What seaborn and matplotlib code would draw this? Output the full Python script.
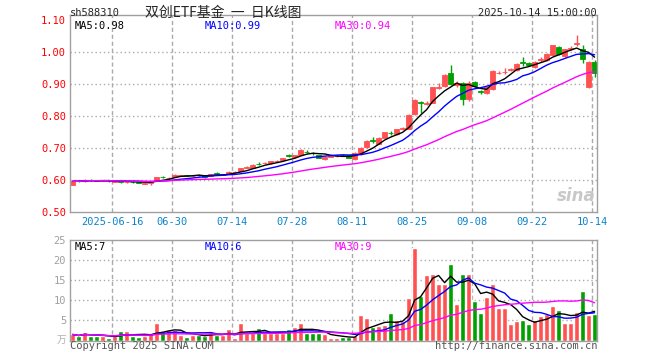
import numpy as np
import pandas as pd
import matplotlib
matplotlib.use("Agg")
import matplotlib.pyplot as plt
import seaborn as sns

# ---- data ----
holidays = ["2025-10-01", "2025-10-02", "2025-10-03", "2025-10-06", "2025-10-07", "2025-10-08"]
tick_days = ["2025-06-16", "2025-06-30", "2025-07-14", "2025-07-28", "2025-08-11",
             "2025-08-25", "2025-09-08", "2025-09-22", "2025-10-14"]

open_ = [0.584, 0.597, 0.596, 0.600, 0.599, 0.597, 0.598, 0.595, 0.596, 0.594,
         0.595, 0.594, 0.589, 0.592, 0.597, 0.610, 0.606, 0.610, 0.614, 0.616,
         0.612, 0.617, 0.615, 0.612, 0.621, 0.617, 0.622, 0.624, 0.629, 0.639,
         0.638, 0.651, 0.653, 0.652, 0.659, 0.662, 0.677, 0.671, 0.679, 0.689,
         0.685, 0.677, 0.666, 0.673, 0.674, 0.678, 0.677, 0.666, 0.680, 0.702,
         0.726, 0.714, 0.732, 0.748, 0.743, 0.759, 0.760, 0.806, 0.845, 0.837,
         0.842, 0.889, 0.893, 0.933, 0.898, 0.902, 0.852, 0.906, 0.878, 0.873,
         0.883, 0.933, 0.936, 0.944, 0.944, 0.968, 0.965, 0.954, 0.975, 0.975,
         0.990, 1.015, 0.988, 1.010, 1.025, 1.008, 0.890, 0.969]
close = [0.596, 0.596, 0.600, 0.599, 0.598, 0.598, 0.596, 0.596, 0.594, 0.595,
         0.594, 0.592, 0.591, 0.595, 0.608, 0.609, 0.607, 0.617, 0.615, 0.614,
         0.614, 0.616, 0.608, 0.618, 0.620, 0.618, 0.625, 0.625, 0.637, 0.640,
         0.648, 0.650, 0.654, 0.658, 0.660, 0.668, 0.676, 0.677, 0.694, 0.688,
         0.683, 0.670, 0.672, 0.674, 0.676, 0.677, 0.670, 0.683, 0.700, 0.721,
         0.723, 0.731, 0.749, 0.746, 0.758, 0.761, 0.804, 0.850, 0.842, 0.842,
         0.890, 0.890, 0.929, 0.901, 0.904, 0.854, 0.904, 0.894, 0.875, 0.890,
         0.942, 0.935, 0.939, 0.946, 0.963, 0.966, 0.958, 0.969, 0.977, 0.994,
         1.021, 0.994, 1.008, 1.012, 1.027, 0.979, 0.969, 0.933]
high = [0.598, 0.599, 0.602, 0.602, 0.600, 0.600, 0.599, 0.597, 0.597, 0.597,
        0.596, 0.595, 0.592, 0.598, 0.609, 0.612, 0.609, 0.618, 0.617, 0.617,
        0.616, 0.619, 0.616, 0.619, 0.624, 0.620, 0.627, 0.627, 0.638, 0.643,
        0.649, 0.655, 0.656, 0.659, 0.662, 0.669, 0.681, 0.678, 0.696, 0.693,
        0.688, 0.679, 0.674, 0.676, 0.678, 0.681, 0.678, 0.686, 0.702, 0.724,
        0.733, 0.735, 0.751, 0.754, 0.760, 0.766, 0.806, 0.852, 0.847, 0.846,
        0.892, 0.902, 0.932, 0.958, 0.910, 0.905, 0.908, 0.910, 0.882, 0.892,
        0.944, 0.942, 0.950, 0.950, 0.965, 0.983, 0.968, 0.971, 0.985, 0.996,
        1.023, 1.018, 1.010, 1.018, 1.052, 1.021, 0.972, 0.975]
low = [0.583, 0.594, 0.595, 0.597, 0.596, 0.596, 0.595, 0.594, 0.591, 0.592,
       0.592, 0.590, 0.587, 0.585, 0.596, 0.606, 0.604, 0.609, 0.612, 0.612,
       0.611, 0.613, 0.606, 0.611, 0.617, 0.615, 0.620, 0.623, 0.628, 0.637,
       0.637, 0.647, 0.651, 0.650, 0.657, 0.660, 0.672, 0.670, 0.678, 0.684,
       0.679, 0.668, 0.664, 0.671, 0.672, 0.675, 0.668, 0.662, 0.678, 0.700,
       0.716, 0.712, 0.730, 0.742, 0.740, 0.757, 0.758, 0.803, 0.808, 0.834,
       0.840, 0.884, 0.890, 0.898, 0.890, 0.835, 0.846, 0.890, 0.868, 0.870,
       0.880, 0.930, 0.930, 0.940, 0.941, 0.955, 0.955, 0.950, 0.970, 0.972,
       0.988, 0.990, 0.985, 1.006, 1.020, 0.965, 0.886, 0.921]
# volume, in 10k lots
volume = [1.5, 1.0, 2.0, 1.2, 1.2, 1.0, 0.5, 1.0, 2.25, 2.25,
          1.2, 0.8, 1.2, 1.7, 4.25, 2.3, 2.5, 2.5, 1.3, 0.8,
          1.4, 1.25, 1.2, 2.25, 1.3, 1.3, 2.8, 0.5, 4.25, 1.8,
          1.8, 3.0, 1.8, 1.8, 1.8, 1.8, 2.75, 3.3, 4.25, 1.8,
          1.8, 1.8, 1.5, 0.6, 0.6, 0.8, 0.9, 1.2, 6.25, 5.6,
          3.3, 3.6, 3.75, 6.75, 5.2, 4.8, 10.5, 23.1, 11.0, 16.3,
          16.6, 14.0, 14.2, 19.0, 9.0, 16.5, 16.5, 9.8, 6.75, 10.75,
          14.0, 8.0, 8.0, 4.0, 4.75, 5.0, 4.0, 5.0, 6.0, 6.5,
          8.5, 7.5, 4.3, 4.3, 7.0, 12.25, 6.25, 6.5]

RED = "#ff5151"
GREEN = "#00a000"
GRID = "#aaaaaa"
MONO = "DejaVu Sans Mono"

sns.set_style("white")
plt.rcParams['font.family'] = [MONO, 'Noto Sans CJK SC']

dates = pd.bdate_range("2025-06-05", "2025-10-14")
dates = dates[~dates.isin(pd.to_datetime(holidays))]

df = pd.DataFrame({"date": dates, "open": open_, "close": close, "high": high,
                   "low": low, "vol": volume})
df["idx"] = np.arange(len(df))
df["dir"] = np.where(df["close"] >= df["open"], "up", "down")
for w in (5, 10, 30):
    df[f"ma{w}"] = df["close"].rolling(w, min_periods=1).mean()
    df[f"vma{w}"] = df["vol"].rolling(w, min_periods=1).mean()
colors = np.where(df["dir"] == "up", RED, GREEN)

tick_idx = [int(np.where(df["date"] == pd.Timestamp(d))[0][0]) for d in tick_days]
tick_pos = [i - 0.4 for i in tick_idx]
tick_lab = [tick_days[0]] + [d[5:] for d in tick_days[1:]]

W, H = 660, 360
fig = plt.figure(figsize=(W / 100, H / 100), dpi=100)
ax = fig.add_axes([70.3 / W, 1 - 212 / H, 526.7 / W, 197.3 / H])
axv = fig.add_axes([70.3 / W, 1 - 340.5 / H, 526.7 / W, 100.3 / H])

# ---- price panel ----
for y in [0.6, 0.7, 0.8, 0.9, 1.0]:
    ax.axhline(y, color=GRID, lw=1, ls=(0, (1, 2)), zorder=0)
for p in tick_pos:
    ax.axvline(p, color=GRID, lw=1, ls=(0, (3, 2)), zorder=0)

ax.vlines(df["idx"], df["low"], df["high"], colors=colors, lw=1, zorder=2)
ax.bar(df["idx"], (df["close"] - df["open"]).abs(), bottom=df[["open", "close"]].min(axis=1),
       width=0.75, color=colors, edgecolor=colors, linewidth=0.6, zorder=2)
sns.lineplot(data=df, x="idx", y="ma5", ax=ax, color="black", lw=1, zorder=3)
sns.lineplot(data=df, x="idx", y="ma10", ax=ax, color="#0000ff", lw=1, zorder=3)
sns.lineplot(data=df, x="idx", y="ma30", ax=ax, color="#ff00ff", lw=1, zorder=3)

ax.set_xlim(-0.4, 87.4)
ax.set_ylim(0.5, 1.1166)
ax.set_yticks([0.5, 0.6, 0.7, 0.8, 0.9, 1.0, 1.1])
ax.set_yticklabels([f"{v:.2f}" for v in [0.5, 0.6, 0.7, 0.8, 0.9, 1.0, 1.1]])
ax.set_xticks(tick_pos)
ax.set_xticklabels(tick_lab)
ax.tick_params(axis="y", length=0, pad=3, labelsize=7.5, labelcolor="#ff0000")
ax.tick_params(axis="x", length=0, pad=3.5, labelsize=7.5, labelcolor="#0a84cc")
ax.set_xlabel("")
ax.set_ylabel("")

# ---- volume panel ----
for y in [5, 10, 15, 20]:
    axv.axhline(y, color=GRID, lw=1, ls=(0, (1, 2)), zorder=0)
for p in tick_pos:
    axv.axvline(p, color=GRID, lw=1, ls=(0, (3, 2)), zorder=0)
sns.barplot(data=df, x="idx", y="vol", hue="dir", palette={"up": RED, "down": GREEN},
            native_scale=True, dodge=False, width=0.8, saturation=1, legend=False,
            ax=axv, zorder=2)
sns.lineplot(data=df, x="idx", y="vma5", ax=axv, color="black", lw=1, zorder=3)
sns.lineplot(data=df, x="idx", y="vma10", ax=axv, color="#0000ff", lw=1, zorder=3)
sns.lineplot(data=df, x="idx", y="vma30", ax=axv, color="#ff00ff", lw=1, zorder=3)
axv.set_xlim(-0.4, 87.4)
axv.set_ylim(0, 25)
axv.set_yticks([5, 10, 15, 20, 25])
axv.set_xticks([])
axv.tick_params(axis="y", length=0, pad=3, labelsize=7.5, labelcolor="#a0a0a0")
axv.set_xlabel("")
axv.set_ylabel("")

for a in (ax, axv):
    for s in a.spines.values():
        s.set_color("#a0a0a0")
        s.set_linewidth(1)

# ---- texts ----
def ftext(x, y, s, **kw):
    fig.text(x / W, 1 - y / H, s, **kw)

last = df.iloc[-1]
ftext(70, 13, "sh588310", fontsize=7.5, va="center", ha="left")
ftext(223, 13, "双创ETF基金  一  日K线图", fontsize=10, va="center", ha="center",
      family=["Noto Sans CJK SC", "DejaVu Sans"])
ftext(597, 13, "2025-10-14 15:00:00", fontsize=7.5, va="center", ha="right")
ftext(75, 26, f"MA5:{last.ma5:.2f}", fontsize=7.5, va="center", color="black")
ftext(205, 26, f"MA10:{last.ma10:.2f}", fontsize=7.5, va="center", color="#0000ff")
ftext(335, 26, f"MA30:{last.ma30:.2f}", fontsize=7.5, va="center", color="#ff00ff")
ftext(75, 247, f"MA5:{int(last.vma5)}", fontsize=7.5, va="center", color="black")
ftext(205, 247, f"MA10:{int(last.vma10)}", fontsize=7.5, va="center", color="#0000ff")
ftext(335, 247, f"MA30:{int(last.vma30)}", fontsize=7.5, va="center", color="#ff00ff")
ftext(66, 340, "万", fontsize=7, va="center", ha="right", color="#b0b0b0",
      family=["Noto Sans CJK SC", "DejaVu Sans"])
ftext(70, 346, "Copyright 2025 SINA.COM", fontsize=7.5, va="center", ha="left", color="#555555")
ftext(597, 346, "http://finance.sina.com.cn", fontsize=7.5, va="center", ha="right", color="#555555")
ftext(596, 196, "sina", fontsize=12, va="center", ha="right", color="#c8c8c8",
      style="italic", weight="bold", family="DejaVu Sans")

fig.savefig("out.png", dpi=100, facecolor="white")
